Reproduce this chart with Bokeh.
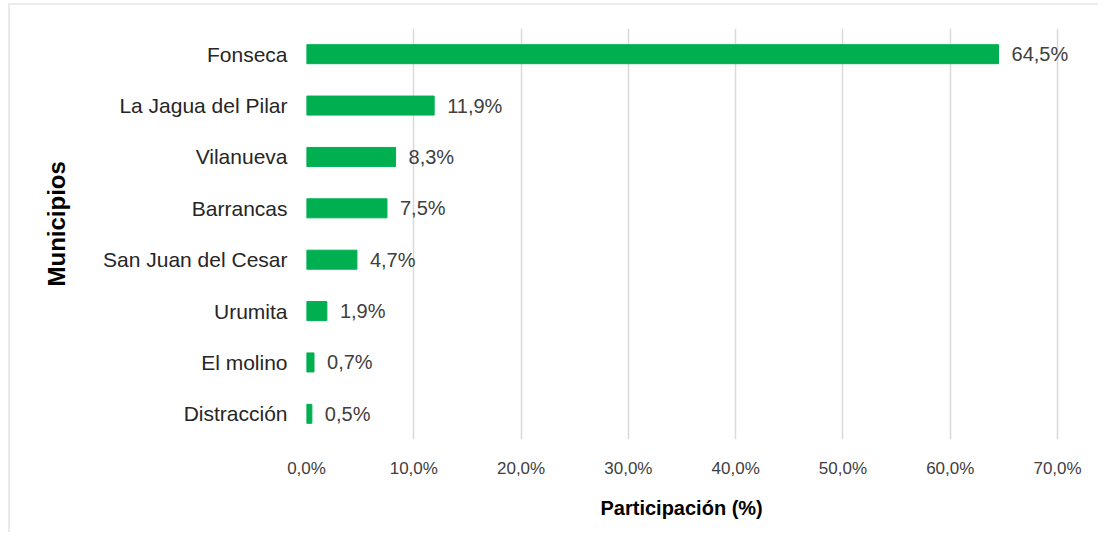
from bokeh.plotting import figure
from bokeh.models import ColumnDataSource, Range1d, FactorRange, FixedTicker, Title
from bokeh.core.properties import value
from bokeh.embed import file_html
from bokeh.resources import INLINE

# Data
municipios = ["Fonseca", "La Jagua del Pilar", "Vilanueva", "Barrancas",
              "San Juan del Cesar", "Urumita", "El molino", "Distracción"]
participacion = [64.5, 11.9, 8.3, 7.5, 4.7, 1.9, 0.7, 0.5]
x_ticks = [0, 10, 20, 30, 40, 50, 60, 70]
x_tick_labels = ["0,0%", "10,0%", "20,0%", "30,0%", "40,0%", "50,0%", "60,0%", "70,0%"]
x_title = "Participación (%)"
y_title = "Municipios"

labels = [f"{v:.1f}".replace(".", ",") + "%" for v in participacion]
source = ColumnDataSource(dict(cat=municipios, val=participacion, lab=labels))

FONT = "Liberation Sans"

p = figure(width=1098, height=532, output_backend="svg", toolbar_location=None,
           y_range=FactorRange(*list(reversed(municipios))),
           x_range=Range1d(0, 73.26),
           min_border_left=306, min_border_right=6,
           min_border_top=28, min_border_bottom=92)
p.styles = {"box-shadow": "inset 8px 3px 0 0 #ffffff, inset 10px 5px 0 0 #ebebeb"}
p.outline_line_color = None
p.background_fill_color = "white"
p.border_fill_color = None

p.hbar(y="cat", left=0, right="val", height=0.37, source=source,
       fill_color="#00B050", line_color="#00B050")

p.text(x="val", y="cat", text="lab", source=source, x_offset=13,
       text_align="left", text_baseline="middle",
       text_font=value(FONT), text_font_size="20px", text_color="#404040")

# Grid
p.ygrid.grid_line_color = None
p.xgrid.grid_line_color = "#d9d9d9"
p.xgrid.grid_line_width = 1.5
p.xgrid.ticker = FixedTicker(ticks=x_ticks)

# X axis
xa = p.xaxis[0]
xa.ticker = FixedTicker(ticks=x_ticks)
xa.major_label_overrides = {t: l for t, l in zip(x_ticks, x_tick_labels)}
xa.axis_line_color = None
xa.major_tick_line_color = None
xa.minor_tick_line_color = None
xa.major_tick_out = 0
xa.major_label_standoff = 19
xa.major_label_text_font = FONT
xa.major_label_text_font_size = "17px"
xa.major_label_text_color = "#404040"

# Y axis
ya = p.yaxis[0]
ya.axis_line_color = None
ya.major_tick_line_color = None
ya.minor_tick_line_color = None
ya.major_tick_out = 0
ya.major_label_standoff = 19
ya.major_label_text_font = FONT
ya.major_label_text_font_size = "21px"
ya.major_label_text_color = "#262626"

# Axis titles as titles (so they can be shifted off the frame centre)
p.add_layout(Title(text=x_title, align="left", offset=294, standoff=28,
                   text_font=FONT, text_font_size="20px",
                   text_font_style="bold", text_color="#000000"), "below")
p.add_layout(Title(text=y_title, align="left", offset=153, standoff=62,
                   text_font=FONT, text_font_size="24px",
                   text_font_style="bold", text_color="#000000"), "left")

open("out.html", "w").write(file_html(p, INLINE))
